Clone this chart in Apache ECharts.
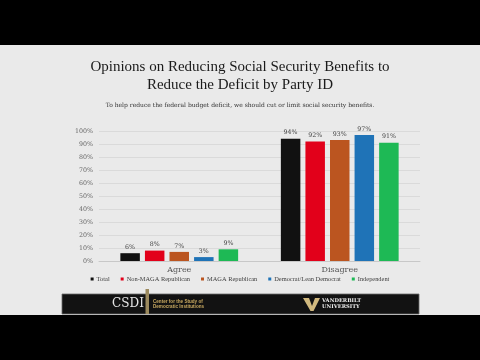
<!DOCTYPE html>
<html><head><meta charset="utf-8">
<script src="https://cdn.jsdelivr.net/npm/echarts@6/dist/echarts.min.js"></script>
<style>html,body{margin:0;padding:0;background:#000}#c{width:480px;height:360px}</style>
</head><body><div id="c"></div>
<script>
const categories = ['Agree', 'Disagree'];
const seriesNames = ['Total', 'Non-MAGA Republican', 'MAGA Republican', 'Democrat/Lean Democrat', 'Independent'];
const total = [6, 94];
const nonMaga = [8, 92];
const maga = [7, 93];
const dem = [3, 97];
const independent = [9, 91];
const yTicks = [0, 10, 20, 30, 40, 50, 60, 70, 80, 90, 100];
const colors = ['#111111', '#e2001a', '#bb5520', '#1f73b7', '#1eb955'];
const values = [total, nonMaga, maga, dem, independent];

const serif = '"DejaVu Serif", "Liberation Serif", serif';
const lserif = '"Liberation Serif", serif';
const chart = echarts.init(document.getElementById('c'));
chart.setOption({
  backgroundColor: '#000',
  animation: false,
  color: colors,
  title: [
    { text: 'Opinions on Reducing Social Security Benefits to\nReduce the Deficit by Party ID', left: 'center', top: 53,
      textStyle: { fontFamily: lserif, fontSize: 15, fontWeight: 'normal', color: '#1a1a1a', lineHeight: 18 } },
    { text: 'To help reduce the federal budget deficit, we should cut or limit social security benefits.', left: 'center', top: 97,
      textStyle: { fontFamily: serif, fontSize: 6, fontWeight: 'normal', color: '#333' } }
  ],
  legend: {
    data: seriesNames, left: 'center', top: 271, itemWidth: 3, itemHeight: 3, itemGap: 11,
    icon: 'rect', textStyle: { fontFamily: lserif, fontSize: 6.4, color: '#404040', padding: [0, 0, 0, -2] }
  },
  grid: { left: 99, right: 60, top: 131, bottom: 99 },
  xAxis: {
    type: 'category', data: categories,
    axisLine: { lineStyle: { color: '#c8c8c8' } }, axisTick: { show: false },
    axisLabel: { fontFamily: serif, fontSize: 8, color: '#555', margin: 5 }
  },
  yAxis: {
    type: 'value', min: 0, max: 100, interval: 10,
    axisLabel: { fontFamily: serif, fontSize: 6.3, color: '#666', formatter: v => yTicks.includes(v) ? v + '%' : '', margin: 6 },
    splitLine: { lineStyle: { color: '#d6d6d6', width: 0.8 } }
  },
  series: seriesNames.map((n, i) => ({
    name: n, type: 'bar', data: values[i], barWidth: 19.5, barGap: '26%',
    label: { show: true, position: 'top', formatter: '{c}%', fontFamily: serif, fontSize: 6.3, color: '#444', distance: 3 }
  })),
  graphic: [
    { type: 'rect', z: -10, shape: { x: 0, y: 45, width: 480, height: 270 }, style: { fill: '#eaeaea' } },
    { type: 'rect', shape: { x: 62, y: 294, width: 357, height: 20 }, style: { fill: '#121212', stroke: '#6a6a6a', lineWidth: 0.8 } },
    { type: 'rect', shape: { x: 145.5, y: 289, width: 3.5, height: 25 }, style: { fill: '#9c8a5e' } },
    { type: 'text', style: { x: 128, y: 304, text: 'CSDI', fill: '#e6e6e6', font: '12px ' + serif, textAlign: 'center', textVerticalAlign: 'middle' } },
    { type: 'text', style: { x: 153, y: 304, text: 'Center for the Study of\nDemocratic Institutions', fill: '#c9a960', font: 'bold 4.6px "Liberation Sans Narrow", "Liberation Sans", sans-serif', textVerticalAlign: 'middle', lineHeight: 5.5 } },
    { type: 'polygon', shape: { points: [[303, 298], [309, 298], [312, 306], [315, 298], [320, 298], [313.5, 311], [310.5, 311]] }, style: { fill: '#d1b97f' } },
    { type: 'text', style: { x: 322, y: 304, text: 'VANDERBILT\nUNIVERSITY', fill: '#f0f0f0', font: 'bold 5.2px ' + serif, textVerticalAlign: 'middle', lineHeight: 6 } }
  ]
});
</script></body></html>
